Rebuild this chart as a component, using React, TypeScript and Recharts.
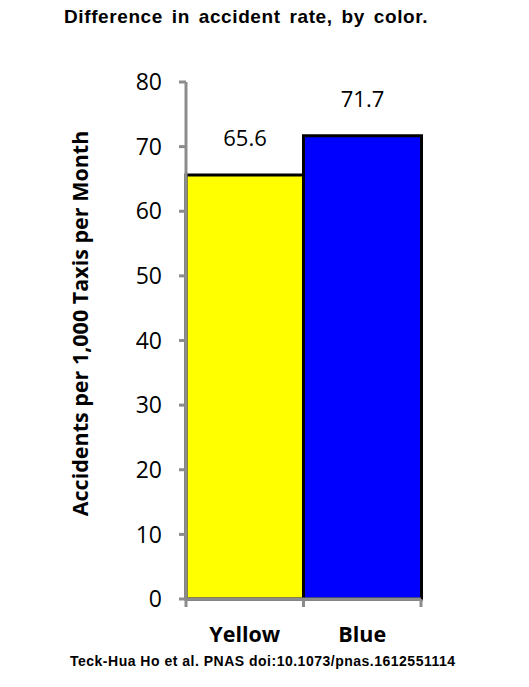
import React from "react";
import { BarChart, Bar, XAxis, YAxis, LabelList, Cell } from "recharts";

const categories = ["Yellow", "Blue"];
const rates = [65.6, 71.7];
const barColors = ["#FFFF00", "#0000FF"];
const yTicks = [0, 10, 20, 30, 40, 50, 60, 70, 80];
const yTitle = "Accidents per 1,000 Taxis per Month";

const chartData = categories.map((c, i) => ({ name: c, rate: rates[i] }));

const W = 529;
const H = 687;
const margin = { top: 82, right: 108, bottom: 58, left: 70 };
const yAxisWidth = 116;
const plotW = W - margin.left - margin.right - yAxisWidth;
const halfBand = plotW / categories.length / 2;

const axisGrey = "#8c8c8c";
const font = "'Open Sans', 'Liberation Sans', Arial, sans-serif";
const arial = "'Liberation Sans', Arial, sans-serif";

function XTick(props: any) {
  const { x, y, payload, index } = props;
  const isLast = index === categories.length - 1;
  return (
    <g>
      <line x1={x - halfBand} y1={y - 8} x2={x - halfBand} y2={y} stroke={axisGrey} strokeWidth={3} />
      {isLast && (
        <line x1={x + halfBand} y1={y - 8} x2={x + halfBand} y2={y} stroke={axisGrey} strokeWidth={3} />
      )}
      <text x={x} y={y + 35} textAnchor="middle" fontFamily={font} fontWeight={700} fontSize={21.5} fill="#000">
        {payload.value}
      </text>
    </g>
  );
}

// rotated axis title, sitting a bit above the plot's vertical centre like the original
function YTitle(props: any) {
  const vb = props.viewBox || {};
  const cx = (vb.x ?? margin.left) + 9;
  const cy = (vb.y ?? margin.top) + (vb.height ?? 517) / 2 - 17;
  return (
    <text
      x={cx}
      y={cy}
      transform={`rotate(-90, ${cx}, ${cy})`}
      textAnchor="middle"
      dominantBaseline="central"
      fill="#000"
      fontWeight={700}
      fontSize={21.5}
      fontFamily={font}
    >
      {yTitle}
    </text>
  );
}

export default function App() {
  return (
    <div style={{ position: "absolute", left: 0, top: 0, width: W, height: H, background: "#fff" }}>
      <div
        style={{
          position: "absolute",
          top: 6,
          left: 64,
          whiteSpace: "nowrap",
          fontFamily: arial,
          fontWeight: 700,
          fontSize: 19,
          letterSpacing: 0.6,
          wordSpacing: 3,
        }}
      >
        Difference in accident rate, by color.
      </div>
      <div
        style={{
          position: "absolute",
          top: 653,
          left: 70,
          whiteSpace: "nowrap",
          fontFamily: arial,
          fontWeight: 700,
          fontSize: 14,
          letterSpacing: 0.5,
        }}
      >
        Teck-Hua Ho et al. PNAS doi:10.1073/pnas.1612551114
      </div>
      <BarChart width={W} height={H} data={chartData} margin={margin} barCategoryGap={0} style={{ position: "absolute", left: 0, top: 0 }}>
        <XAxis
          dataKey="name"
          axisLine={{ stroke: axisGrey, strokeWidth: 3 }}
          tickLine={false}
          tick={<XTick />}
          interval={0}
        />
        <YAxis
          width={yAxisWidth}
          domain={[0, 80]}
          ticks={yTicks}
          interval={0}
          axisLine={{ stroke: axisGrey, strokeWidth: 3 }}
          tickLine={{ stroke: axisGrey, strokeWidth: 3 }}
          tickSize={7}
          tickMargin={17}
          tick={{ fill: "#000", fontSize: 23, fontFamily: font }}
          label={{ content: (p: any) => <YTitle {...p} /> }}
        />
        <Bar dataKey="rate" stroke="#000" strokeWidth={3} isAnimationActive={false}>
          {chartData.map((d, i) => (
            <Cell key={d.name} fill={barColors[i]} />
          ))}
          <LabelList dataKey="rate" position="top" offset={29} fill="#000" fontSize={22} fontFamily={font} />
        </Bar>
      </BarChart>
    </div>
  );
}
